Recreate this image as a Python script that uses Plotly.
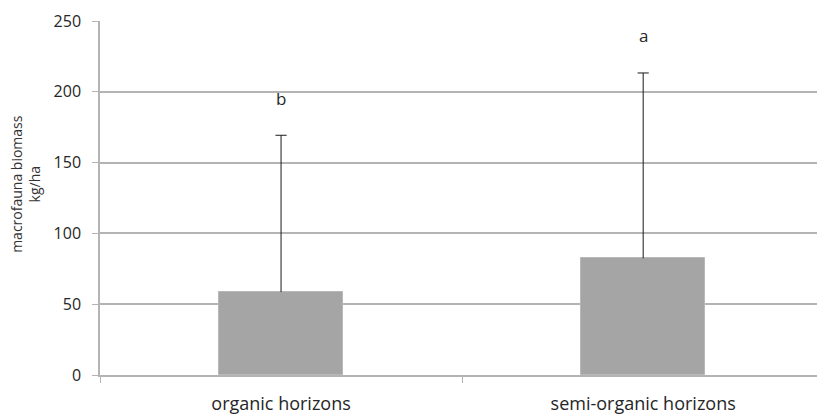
import plotly.graph_objects as go

# Mean macrofauna biomass per horizon type, with standard deviations
categories = ["organic horizons", "semi-organic horizons"]
biomass = [58.6, 82.4]
biomass_sd = [110.7, 130.9]
group_letters = ["b", "a"]
letter_heights = [195, 240]
y_ticks = [0, 50, 100, 150, 200, 250]

font_family = "'Open Sans', 'Noto Sans', sans-serif"
text_color = "#262626"
grid_grey = "#b4b4b4"
whisker_color = "#1a1a1a"

upper = [m + s for m, s in zip(biomass, biomass_sd)]

fig = go.Figure()
fig.add_trace(go.Bar(
    x=categories,
    y=biomass,
    width=0.343,
    marker=dict(color="#a5a5a5", line=dict(color="#b8b8b8", width=1)),
    showlegend=False,
    hoverinfo="skip",
))

# Plus-only whiskers: a stem from the bar top to mean + SD, capped at the end
stem_x, stem_y = [], []
for cat, m, u in zip(categories, biomass, upper):
    stem_x += [cat, cat, None]
    stem_y += [m, u, None]
fig.add_trace(go.Scatter(
    x=stem_x, y=stem_y, mode="lines",
    line=dict(color=whisker_color, width=1),
    showlegend=False, hoverinfo="skip",
))
fig.add_trace(go.Scatter(
    x=categories, y=upper, mode="markers",
    marker=dict(symbol="line-ew", size=8,
                line=dict(color=whisker_color, width=1)),
    showlegend=False, hoverinfo="skip",
))

# Significance letters above each bar
for cat, letter, h in zip(categories, group_letters, letter_heights):
    fig.add_annotation(x=cat, y=h, text=letter, showarrow=False,
                       font=dict(family=font_family, size=17, color=text_color))

# Two-line y-axis title
fig.add_annotation(xref="paper", yref="y", x=0, y=135, xshift=-74,
                   text="macrofauna biomass<br>kg/ha", textangle=-90,
                   showarrow=False, xanchor="center", yanchor="middle",
                   font=dict(family=font_family, size=14, color="#333333"))

fig.update_layout(
    width=817, height=416,
    margin=dict(l=100, r=0, t=21, b=41),
    paper_bgcolor="white", plot_bgcolor="white",
    font=dict(family=font_family, size=16, color=text_color),
    bargap=0.0,
)
fig.update_xaxes(
    type="category", range=[-0.5, 1.48],
    tickson="boundaries", ticks="outside", ticklen=6, tickcolor=grid_grey,
    showline=True, linecolor=grid_grey, linewidth=1.5,
    showgrid=False, ticklabelstandoff=12,
    tickfont=dict(family=font_family, size=18, color=text_color),
)
fig.update_yaxes(
    range=[0, 250], tickvals=y_ticks,
    ticks="outside", ticklen=6, tickcolor=grid_grey,
    showline=True, linecolor=grid_grey, linewidth=1.5,
    showgrid=True, gridcolor=grid_grey, gridwidth=1.5, zeroline=False,
    ticklabelstandoff=8,
    tickfont=dict(family=font_family, size=16, color=text_color),
)

fig.write_html("out.html")
